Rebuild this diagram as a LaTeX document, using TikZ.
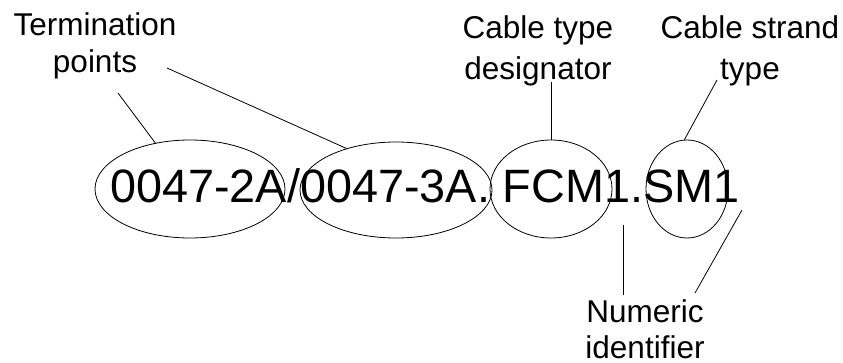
\documentclass[tikz,border=0pt]{standalone}
\usepackage{fontspec}
\setmainfont{Liberation Sans}
\usetikzlibrary{shapes.geometric}
\begin{document}
\begin{tikzpicture}[x=1pt,y=-1pt,
  lbl/.style={font=\fontsize{31.5}{38}\selectfont, align=center, inner sep=0pt, anchor=base},
  oval/.style={draw, ellipse, inner sep=0pt, line width=0.8pt},
  conn/.style={line width=0.8pt}]
\useasboundingbox (0,0) rectangle (843,362);
\node[anchor=base west, inner sep=0pt, font=\fontsize{46.8}{50}\selectfont] (code) at (110,202) {0047-2A/0047-3A. FCM1.SM1};
\node[oval, minimum width=190pt, minimum height=98pt] (e1) at (190,189) {};
\node[oval, minimum width=192pt, minimum height=96pt] (e2) at (396,190) {};
\node[oval, minimum width=122pt, minimum height=98pt] (e3) at (551,189) {};
\node[oval, minimum width=82pt, minimum height=98pt] (e4) at (687,189) {};
\node[lbl, font=\fontsize{31.5}{37.5}\selectfont] (term) at (95,72.5) {Termination\\points};
\node[lbl, font=\fontsize{31.5}{40.5}\selectfont] (ctd) at (538,79) {Cable type\\designator};
\node[lbl, font=\fontsize{31.5}{40.5}\selectfont] (cst) at (750,79) {Cable strand\\type};
\node[lbl, font=\fontsize{31.5}{36}\selectfont] (num) at (645,358) {Numeric\\identifier};
\coordinate (t1) at (118,93);
\coordinate (t2) at (167,68);
\coordinate (d1) at (551,82);
\coordinate (s1) at (717,80);
\coordinate (n1) at (623,225);
\coordinate (n2) at (623,295);
\coordinate (m1) at (742,210);
\coordinate (m2) at (695,293);
\draw[conn] (t1) -- (e1.127);
\draw[conn] (t2) -- (e2.140);
\draw[conn] (d1) -- (e3.north);
\draw[conn] (s1) -- (e4.93);
\draw[conn] (n1) -- (n2);
\draw[conn] (m1) -- (m2);
\end{tikzpicture}
\end{document}
